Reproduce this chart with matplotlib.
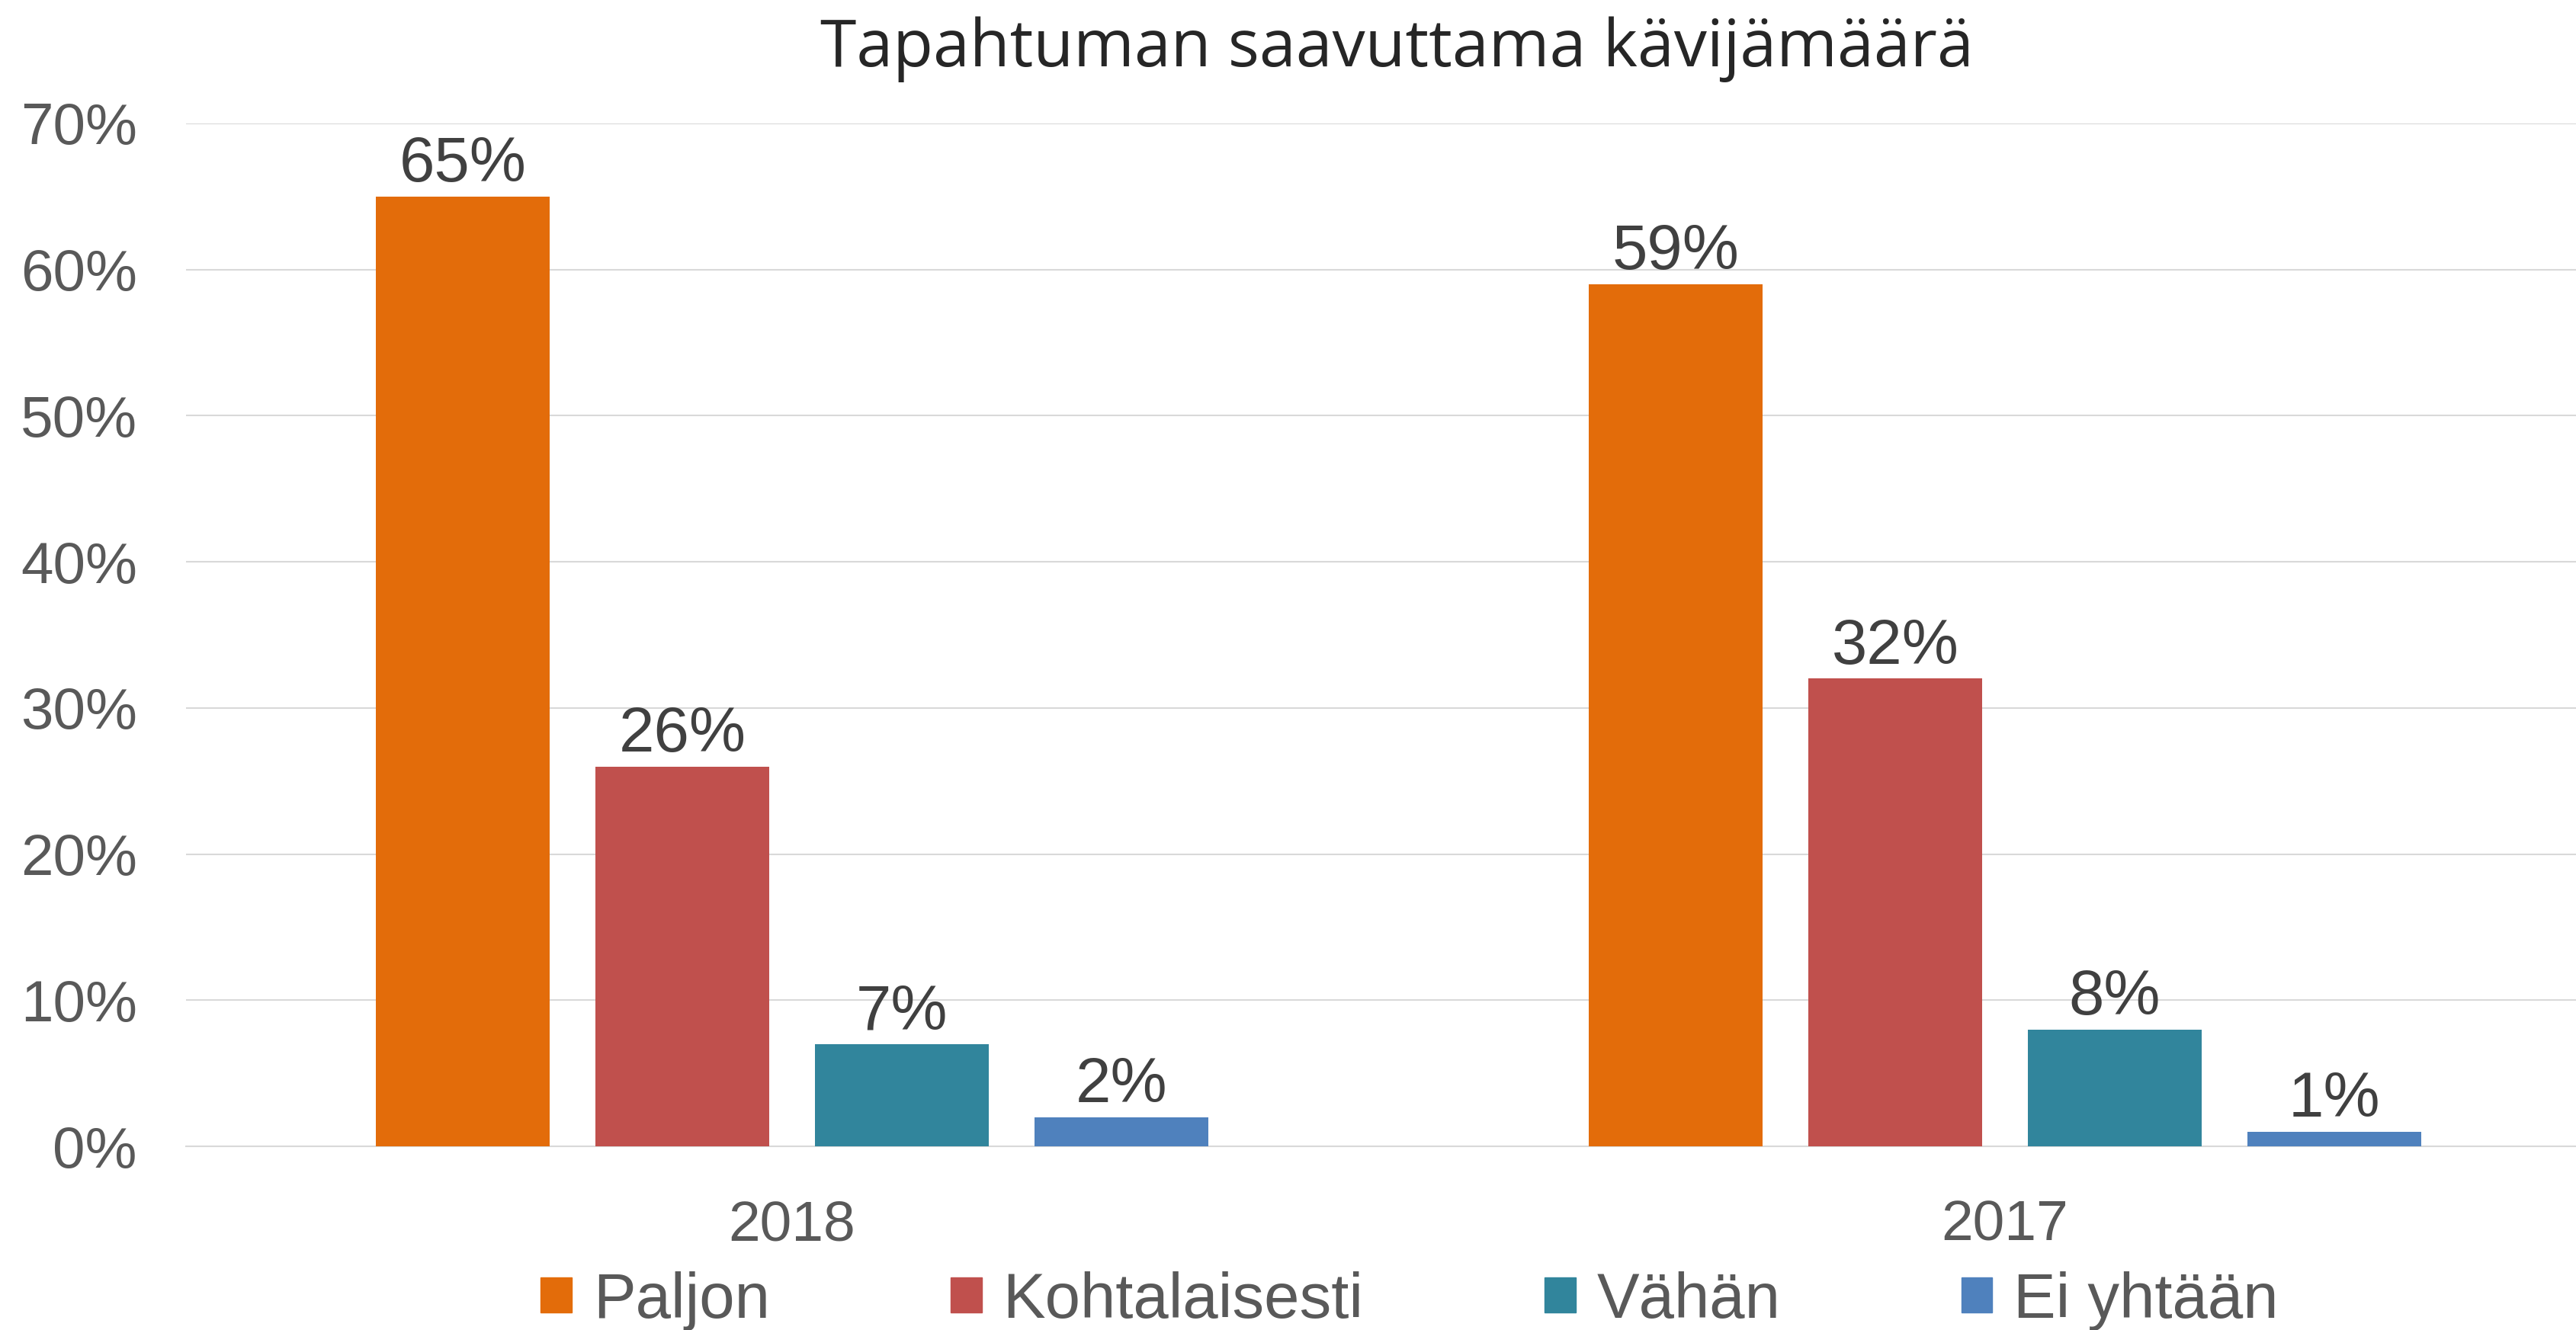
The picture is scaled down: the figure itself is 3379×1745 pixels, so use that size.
import matplotlib
matplotlib.use('Agg')
from matplotlib import pyplot as plt
from matplotlib.patches import Patch
import numpy as np

years = ['2018', '2017']
series_names = ['Paljon', 'Kohtalaisesti', 'Vähän', 'Ei yhtään']
paljon = [65, 59]
kohtalaisesti = [26, 32]
vahan = [7, 8]
ei_yhtaan = [2, 1]
series_values = [paljon, kohtalaisesti, vahan, ei_yhtaan]
colors = ['#E36C0A', '#C0504D', '#31859C', '#4F81BD']
yticks = [0, 10, 20, 30, 40, 50, 60, 70]

plt.rcParams['font.family'] = ['Liberation Sans', 'DejaVu Sans']

fig = plt.figure(figsize=(33.8, 17.45), dpi=100)
ax = fig.add_axes([0.0721, 0.1381, 0.9413, 0.7691])

x = np.arange(len(years))
step = 0.181
width = 0.143
for i, (name, vals, col) in enumerate(zip(series_names, series_values, colors)):
    pos = x + (i - 1.5) * step
    ax.bar(pos, vals, width, color=col, label=name, zorder=3)
    for xp, v in zip(pos, vals):
        ax.annotate(f'{v}%', (xp, v), xytext=(0, 14), textcoords='offset points',
                    ha='center', va='baseline', fontsize=60, color='#404040')

ax.set_xlim(-0.5, 1.5)
ax.set_ylim(0, 70)
ax.set_yticks(yticks)
ax.set_yticklabels([f'{t}%' for t in yticks])
ax.set_xticks(x)
ax.set_xticklabels(years)
ax.tick_params(axis='y', length=0, pad=46, labelsize=55, labelcolor='#595959')
ax.tick_params(axis='x', length=0, pad=50, labelsize=54, labelcolor='#595959')
ax.grid(axis='y', color='#D9D9D9', linewidth=1.5, zorder=0)
for s in ['top', 'right', 'left']:
    ax.spines[s].set_visible(False)
ax.spines['bottom'].set_color('#D9D9D9')
ax.spines['bottom'].set_linewidth(1.5)

fig.text(0.542, 0.963, 'Tapahtuman saavuttama kävijämäärä', ha='center', va='center',
         fontsize=62, color='#262626', family=['Open Sans', 'DejaVu Sans'])

handles = [Patch(color=c) for c in colors]
fig.legend(handles, series_names, loc='center', bbox_to_anchor=(0.547, 0.022),
           ncol=4, frameon=False, fontsize=60, labelcolor='#595959',
           handlelength=0.49, handleheight=0.49, handletextpad=0.33,
           columnspacing=2.85, borderpad=0, borderaxespad=0)

fig.savefig('out.png', dpi=100)
